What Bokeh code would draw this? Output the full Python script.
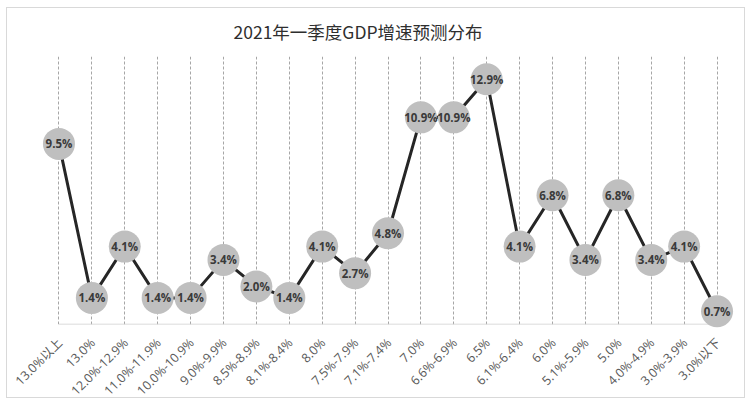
import math
from bokeh.plotting import figure
from bokeh.models import Range1d, FactorRange, ColumnDataSource, Title
from bokeh.core.properties import value
from bokeh.embed import file_html
from bokeh.resources import INLINE

categories = ["13.0%以上", "13.0%", "12.0%-12.9%", "11.0%-11.9%", "10.0%-10.9%",
              "9.0%-9.9%", "8.5%-8.9%", "8.1%-8.4%", "8.0%", "7.5%-7.9%",
              "7.1%-7.4%", "7.0%", "6.6%-6.9%", "6.5%", "6.1%-6.4%", "6.0%",
              "5.1%-5.9%", "5.0%", "4.0%-4.9%", "3.0%-3.9%", "3.0%以下"]
shares = [9.5, 1.4, 4.1, 1.4, 1.4, 3.4, 2.0, 1.4, 4.1, 2.7, 4.8, 10.9, 10.9,
          12.9, 4.1, 6.8, 3.4, 6.8, 3.4, 4.1, 0.7]
labels = [f"{v:.1f}%" for v in shares]
title_text = "2021年一季度GDP增速预测分布"

src = ColumnDataSource(dict(x=categories, y=shares, label=labels))
cat_src = ColumnDataSource(dict(x=categories, y=[0] * len(categories),
                                text=categories))

p = figure(width=739, height=391, output_backend="svg", toolbar_location=None,
           x_range=FactorRange(factors=categories, range_padding=0),
           y_range=Range1d(0, 14.1),
           min_border_left=35, min_border_right=13, min_border_top=45,
           min_border_bottom=75)
p.title = Title(text=title_text, align="left", offset=191,
                vertical_align="top",
                text_font="Noto Sans CJK SC", text_font_size="17.5px",
                text_font_style="normal", text_color="#2E2E2E", standoff=21)
p.outline_line_color = None
p.background_fill_color = "white"
p.border_fill_color = "white"
p.styles = {"border": "1px solid #d9d9d9", "margin": "7px 0 0 6px"}

p.yaxis.visible = False
p.xaxis.visible = False
p.ygrid.grid_line_color = None
p.xgrid.grid_line_color = "#A6A6A6"
p.xgrid.grid_line_dash = "3 2"
p.xgrid.grid_line_width = 1

# baseline axis line between first and last category
p.segment(x0=[categories[0]], x1=[categories[-1]], y0=[0], y1=[0],
          line_color="#D0D0D0", line_width=1.5)

# category labels, rotated 45 degrees below the baseline
p.text("x", "y", text="text", source=cat_src, angle=math.pi / 4,
       text_align="right", text_baseline="middle", y_offset=16, x_offset=1,
       text_font=value("Open Sans, Noto Sans CJK SC"), text_font_size="12.5px",
       text_color="#595959", level="overlay")

p.line("x", "y", source=src, line_color="#262626", line_width=3)
p.scatter("x", "y", source=src, size=32, fill_color="#BFBFBF",
          line_color=None, level="overlay")
p.text("x", "y", text="label", source=src, text_align="center",
       text_baseline="middle", text_font=value("Open Sans"),
       text_font_style="bold", text_font_size="11.5px", text_color="#3A3A3A",
       level="overlay")

open("out.html", "w").write(file_html(p, INLINE))
